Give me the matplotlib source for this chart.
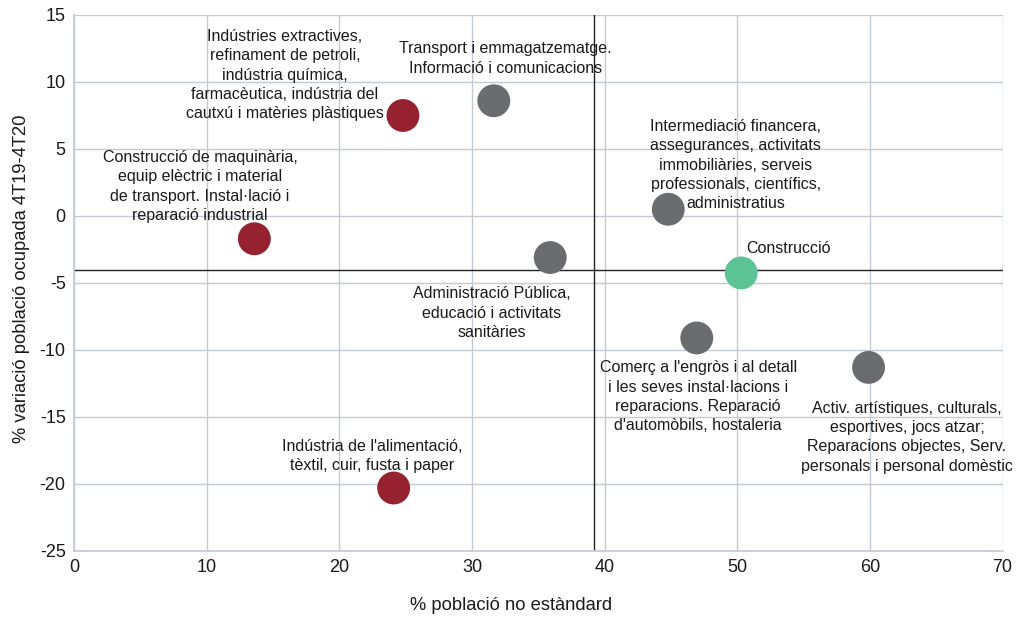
import matplotlib
matplotlib.use('Agg')
from matplotlib import pyplot as plt

plt.rcParams['font.family'] = ['Liberation Sans', 'DejaVu Sans']
plt.rcParams['axes.unicode_minus'] = False

# Sector data
sectors = [
    "Indústries extractives,\nrefinament de petroli,\nindústria química,\nfarmacèutica, indústria del\ncautxú i matèries plàstiques",
    "Transport i emmagatzematge.\nInformació i comunicacions",
    "Construcció de maquinària,\nequip elèctric i material\nde transport. Instal·lació i\nreparació industrial",
    "Administració Pública,\neducació i activitats\nsanitàries",
    "Intermediació financera,\nassegurances, activitats\nimmobiliàries, serveis\nprofessionals, científics,\nadministratius",
    "Construcció",
    "Comerç a l'engròs i al detall\ni les seves instal·lacions i\nreparacions. Reparació\nd'automòbils, hostaleria",
    "Activ. artístiques, culturals,\nesportives, jocs atzar;\nReparacions objectes, Serv.\npersonals i personal domèstic",
    "Indústria de l'alimentació,\ntèxtil, cuir, fusta i paper",
]
no_standard = [24.8, 31.65, 13.6, 35.9, 44.8, 50.3, 46.95, 59.9, 24.1]
var_ocupada = [7.5, 8.6, -1.7, -3.1, 0.5, -4.25, -9.1, -11.3, -20.3]
groups = ['ind', 'srv', 'ind', 'srv', 'srv', 'con', 'srv', 'srv', 'ind']

avg_x = 39.2
avg_y = -4.05

colors = {'ind': '#962230', 'srv': '#6b6c70', 'con': '#5cc394'}

# label anchor (x, y, ha)
label_pos = [
    (15.9, 10.5, 'center'),
    (32.5, 11.75, 'center'),
    (9.5, 2.2, 'center'),
    (31.5, -7.25, 'center'),
    (49.9, 3.8, 'center'),
    (50.7, -2.45, 'left'),
    (47.05, -13.5, 'center'),
    (62.8, -16.5, 'center'),
    (22.5, -17.9, 'center'),
]

fig = plt.figure(figsize=(10.23, 6.17), dpi=100)
ax = fig.add_axes([0.0723, 0.107, 0.9077, 0.8687])

ax.set_xlim(0, 70)
ax.set_ylim(-25, 15)
ax.set_xticks(range(0, 71, 10))
ax.set_yticks(range(-25, 16, 5))
ax.grid(True, color='#c3cad2', linewidth=1.0)
ax.set_axisbelow(True)
for side in ['top', 'right']:
    ax.spines[side].set_visible(False)
for side in ['left', 'bottom']:
    ax.spines[side].set_color('#c3cad2')
    ax.spines[side].set_linewidth(1.2)
ax.tick_params(length=0, labelsize=13, colors='#1a1a1a', pad=6)

ax.axvline(avg_x, color='#222222', linewidth=1.0, zorder=2)
ax.axhline(avg_y, color='#222222', linewidth=1.0, zorder=2)

ax.scatter(no_standard, var_ocupada, s=560,
           c=[colors[g] for g in groups], edgecolors='none', zorder=3)

for name, (lx, ly, ha) in zip(sectors, label_pos):
    ax.text(lx, ly, name, ha=ha, va='center', fontsize=11.5,
            color='#1a1a1a', linespacing=1.36, zorder=4)

fig.text(0.5, 0.019, '% població no estàndard', ha='center', va='center',
         fontsize=13.2, color='#1a1a1a')
fig.text(0.021, 0.548, '% variació població ocupada 4T19-4T20', rotation=90,
         ha='center', va='center', fontsize=13.2, color='#1a1a1a')

plt.savefig('out.png', dpi=100)
plt.close()
